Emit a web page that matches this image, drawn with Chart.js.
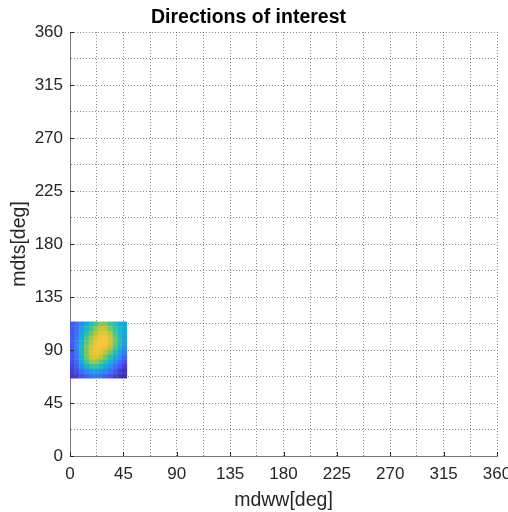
<!DOCTYPE html>
<html>
<head>
<meta charset="utf-8">
<script src="https://cdn.jsdelivr.net/npm/chart.js@4.4.0/dist/chart.umd.min.js"></script>
<style>
  html, body { margin: 0; padding: 0; background: #fff; }
  #wrap { width: 508px; height: 512px; }
</style>
</head>
<body>
<div id="wrap"><canvas id="grafico" width="508" height="512"></canvas></div>
<script>
// centros das células (graus)
const mdwwCentros = [2, 6, 10, 14, 18, 22, 26, 30, 34, 38, 42, 46];
const mdtsCentros = [112, 108, 104, 100, 96, 92, 88, 84, 80, 76, 72, 68];

// densidade normalizada (0..1), uma linha por mdts
const densidade = [
    [0.16, 0.22, 0.30, 0.40, 0.50, 0.58, 0.66, 0.66, 0.58, 0.50, 0.42, 0.38],
    [0.15, 0.22, 0.34, 0.46, 0.58, 0.68, 0.76, 0.76, 0.66, 0.55, 0.46, 0.40],
    [0.15, 0.24, 0.38, 0.52, 0.64, 0.74, 0.80, 0.82, 0.74, 0.60, 0.48, 0.40],
    [0.16, 0.26, 0.42, 0.58, 0.70, 0.78, 0.84, 0.86, 0.78, 0.64, 0.50, 0.38],
    [0.16, 0.28, 0.46, 0.62, 0.74, 0.82, 0.86, 0.86, 0.78, 0.64, 0.50, 0.36],
    [0.16, 0.28, 0.48, 0.66, 0.78, 0.84, 0.84, 0.82, 0.74, 0.60, 0.46, 0.32],
    [0.15, 0.27, 0.48, 0.66, 0.80, 0.84, 0.80, 0.74, 0.64, 0.50, 0.38, 0.26],
    [0.14, 0.25, 0.44, 0.64, 0.78, 0.80, 0.74, 0.64, 0.52, 0.40, 0.30, 0.20],
    [0.13, 0.22, 0.40, 0.56, 0.68, 0.70, 0.62, 0.52, 0.42, 0.32, 0.22, 0.14],
    [0.10, 0.18, 0.32, 0.44, 0.54, 0.55, 0.48, 0.40, 0.32, 0.24, 0.15, 0.08],
    [0.08, 0.13, 0.22, 0.30, 0.36, 0.38, 0.34, 0.28, 0.22, 0.15, 0.08, 0.04],
    [0.05, 0.08, 0.14, 0.18, 0.22, 0.24, 0.22, 0.18, 0.14, 0.08, 0.04, 0.02]
];

const ticksGraus = [0, 45, 90, 135, 180, 225, 270, 315, 360];

// mapa de cores parula (8 pontos)
const parula = [
    [0.2422, 0.1504, 0.6603],
    [0.2810, 0.3228, 0.9579],
    [0.1786, 0.5289, 0.9682],
    [0.0689, 0.6948, 0.8394],
    [0.2161, 0.7843, 0.5923],
    [0.6720, 0.7793, 0.2227],
    [0.9970, 0.7659, 0.2199],
    [0.9769, 0.9839, 0.0805]
];

function corParula(v) {
    let t = Math.max(0, Math.min(1, v)) * (parula.length - 1);
    let i = Math.min(Math.floor(t), parula.length - 2);
    let f = t - i;
    let c = parula[i].map((a, k) => Math.round(255 * (a + (parula[i + 1][k] - a) * f)));
    return `rgb(${c[0]},${c[1]},${c[2]})`;
}

let pontos = [];
let cores = [];
for (let r = 0; r < mdtsCentros.length; r++) {
    for (let c = 0; c < mdwwCentros.length; c++) {
        pontos.push({ x: mdwwCentros[c], y: mdtsCentros[r] });
        cores.push(corParula(densidade[r][c]));
    }
}

// ticks para dentro, estilo matlab
const ticksInternos = {
    id: 'ticksInternos',
    afterDraw(chart) {
        const ctx = chart.ctx;
        const xs = chart.scales.x, ys = chart.scales.y;
        const a = chart.chartArea;
        ctx.save();
        ctx.strokeStyle = '#262626';
        ctx.lineWidth = 1;
        ctx.beginPath();
        ticksGraus.forEach(function(v) {
            let px = Math.round(xs.getPixelForValue(v)) + 0.5;
            ctx.moveTo(px, a.bottom);
            ctx.lineTo(px, a.bottom - 4);
            let py = Math.round(ys.getPixelForValue(v)) + 0.5;
            ctx.moveTo(a.left, py);
            ctx.lineTo(a.left + 4, py);
        });
        ctx.stroke();
        ctx.restore();
    }
};

const rotulo = function(v) { return (v % 45 === 0) ? v : ''; };
const fonte = 'Liberation Sans, Arial, sans-serif';

const gradeEixo = {
    color: 'rgba(38,38,38,0.55)',
    lineWidth: 1,
    drawTicks: false
};

new Chart(document.getElementById('grafico').getContext('2d'), {
    type: 'scatter',
    data: {
        datasets: [{
            label: 'densidade',
            data: pontos,
            backgroundColor: cores,
            borderWidth: 0,
            pointStyle: 'rect',
            pointRadius: 3.6,
            pointHoverRadius: 3.6
        }]
    },
    options: {
        responsive: false,
        animation: false,
        events: [],
        layout: { padding: { left: 0, right: 11, top: 0, bottom: 0 } },
        plugins: {
            legend: { display: false },
            tooltip: { enabled: false },
            title: {
                display: true,
                text: 'Directions of interest',
                color: '#000',
                font: { family: fonte, size: 19.5, weight: 'bold' },
                padding: { top: 6, bottom: 2.6 }
            }
        },
        scales: {
            x: {
                type: 'linear',
                min: 0, max: 360,
                z: 1,
                ticks: {
                    stepSize: 22.5,
                    autoSkip: false,
                    maxRotation: 0,
                    padding: 8,
                    color: '#262626',
                    font: { family: fonte, size: 17 },
                    callback: rotulo
                },
                grid: gradeEixo,
                border: { display: true, color: '#777', width: 1, dash: [1, 2] },
                title: {
                    display: true,
                    text: 'mdww[deg]',
                    color: '#262626',
                    font: { family: fonte, size: 19.5 },
                    padding: { top: 0, bottom: 0 }
                },
                afterFit: function(scale) {
                    scale.height = 56;
                    scale.paddingLeft = 0;
                    scale.paddingRight = 0;
                }
            },
            y: {
                type: 'linear',
                min: 0, max: 360,
                z: 1,
                ticks: {
                    stepSize: 22.5,
                    autoSkip: false,
                    padding: 7,
                    color: '#262626',
                    font: { family: fonte, size: 17 },
                    callback: rotulo
                },
                grid: gradeEixo,
                border: { display: true, color: '#777', width: 1, dash: [1, 2] },
                title: {
                    display: true,
                    text: 'mdts[deg]',
                    color: '#262626',
                    font: { family: fonte, size: 19.5 },
                    padding: { top: 8, bottom: 0 }
                },
                afterFit: function(scale) {
                    scale.width = 70;
                    scale.paddingTop = 0;
                    scale.paddingBottom = 0;
                }
            }
        }
    },
    plugins: [ticksInternos]
});
</script>
</body>
</html>
